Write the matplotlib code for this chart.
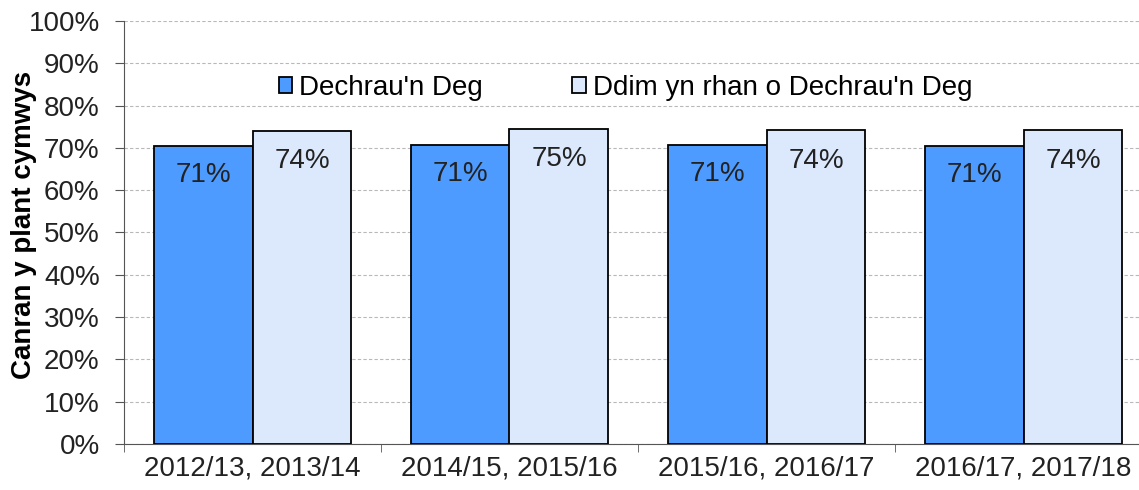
import matplotlib.pyplot as plt
import numpy as np

plt.rcParams['font.family'] = ['Liberation Sans', 'DejaVu Sans']

categories = ['2012/13, 2013/14', '2014/15, 2015/16', '2015/16, 2016/17', '2016/17, 2017/18']
flying_start = [70.5, 70.8, 70.8, 70.5]
not_flying_start = [74.1, 74.5, 74.2, 74.2]
labels_fs = ['71%', '71%', '71%', '71%']
labels_nfs = ['74%', '75%', '74%', '74%']
series_names = ["Dechrau'n Deg", "Ddim yn rhan o Dechrau'n Deg"]

blue = '#4d9bff'
light = '#dce9fd'
txt = '#222222'


def main():
    fig = plt.figure(figsize=(11.39, 4.9), dpi=100)
    # axis runs past the right edge of the picture, as in the original
    ax = fig.add_axes([124 / 1139, 46 / 490, 1028 / 1139, 423 / 490])

    x = np.arange(len(categories))
    w = 0.385
    ax.bar(x - w / 2, flying_start, w, color=blue, edgecolor='black', linewidth=1.3,
           label=series_names[0], zorder=3)
    ax.bar(x + w / 2, not_flying_start, w, color=light, edgecolor='black', linewidth=1.3,
           label=series_names[1], zorder=3)

    for i in range(len(categories)):
        ax.text(x[i] - w / 2, flying_start[i] - 7.0, labels_fs[i], ha='center', va='center',
                fontsize=20, color=txt, zorder=4)
        ax.text(x[i] + w / 2, not_flying_start[i] - 7.2, labels_nfs[i], ha='center', va='center',
                fontsize=20, color=txt, zorder=4)

    ax.set_xlim(-0.5, len(categories) - 0.5)
    ax.set_ylim(0, 100)
    ax.set_yticks(np.arange(0, 101, 10))
    ax.set_yticklabels([f'{v}%' for v in range(0, 101, 10)], fontsize=20, color=txt)
    ax.yaxis.grid(True, linestyle=(0, (3, 2)), color='#b8b8b8', linewidth=0.8, zorder=0)

    ax.set_xticks(x)
    ax.set_xticklabels(categories, fontsize=20, color=txt)
    ax.set_xticks(np.arange(-0.5, len(categories), 1), minor=True)
    ax.tick_params(axis='x', which='major', length=0, pad=8)
    ax.tick_params(axis='x', which='minor', length=6, direction='out', color='#555555')
    ax.tick_params(axis='y', length=6.5, direction='out', color='#555555', pad=11)

    for s in ['top', 'right']:
        ax.spines[s].set_visible(False)
    ax.spines['left'].set_color('#555555')
    ax.spines['bottom'].set_color('#555555')

    ax.set_ylabel('Canran y plant cymwys', fontsize=20, fontweight='bold')
    ax.yaxis.set_label_coords(-0.0846, 0.518)

    ax.legend(loc='center left', bbox_to_anchor=(0.126, 0.842), ncol=2, frameon=False,
              fontsize=20, handlelength=0.5, handleheight=0.5, handletextpad=0.25,
              columnspacing=3.2)

    fig.savefig('out.png', dpi=100)


if __name__ == "__main__":
    main()
